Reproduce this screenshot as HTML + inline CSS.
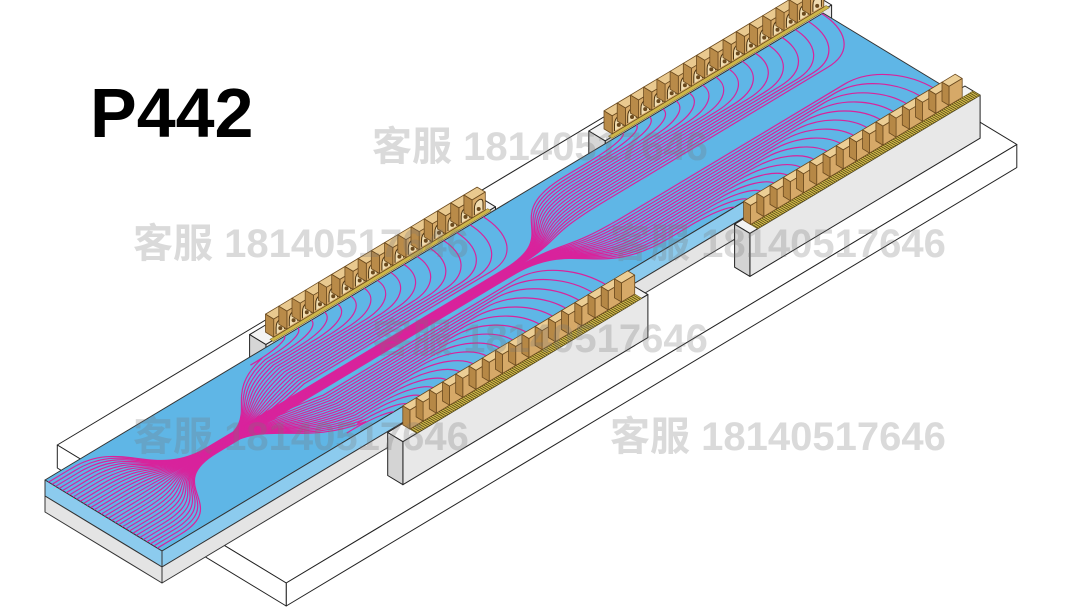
<!DOCTYPE html>
<html><head><meta charset="utf-8"><style>
html,body{margin:0;padding:0;background:#fff;}
#wrap{position:relative;width:1080px;height:608px;overflow:hidden;background:#fff;}
svg{position:absolute;left:0;top:0;}
.wm{font-family:"Liberation Sans","Noto Sans CJK SC",sans-serif;font-weight:bold;font-size:40px;fill:rgba(120,120,120,0.27);}
</style></head><body>
<div id="wrap">
<svg id="scene" width="1080" height="608" viewBox="0 0 1080 608"></svg>
<svg width="1080" height="608" viewBox="0 0 1080 608">
<text x="90" y="137" style="font-family:'Liberation Sans',sans-serif;font-weight:bold;font-size:70px;fill:#000">P442</text>
<text class="wm" x="372" y="160">客服 18140517646</text>
<text class="wm" x="133" y="257">客服 18140517646</text>
<text class="wm" x="610" y="257">客服 18140517646</text>
<text class="wm" x="372" y="352">客服 18140517646</text>
<text class="wm" x="133" y="450">客服 18140517646</text>
<text class="wm" x="610" y="450">客服 18140517646</text>
</svg>
</div>
<script>
function P(u,v,h){h=h||0;return [45+.778*u+1.17*v, 480-.467*u+.71*v-h];}
function f(p){return p[0].toFixed(1)+','+p[1].toFixed(1);}
var out='';
function poly(pts,fill,stroke,sw){stroke=stroke||'#222';sw=sw||1;
 out+='<polygon points="'+pts.map(function(p){return f(P(p[0],p[1],p[2]));}).join(' ')+'" fill="'+fill+'" stroke="'+stroke+'" stroke-width="'+sw+'" stroke-linejoin="round"/>';}
function box(u0,u1,v0,v1,h0,h1,ct,cf,cl,st,sw){
 poly([[u0,v0,h1],[u1,v0,h1],[u1,v1,h1],[u0,v1,h1]],ct,st,sw);
 poly([[u0,v1,h1],[u1,v1,h1],[u1,v1,h0],[u0,v1,h0]],cf,st,sw);
 poly([[u0,v0,h1],[u0,v1,h1],[u0,v1,h0],[u0,v0,h0]],cl,st,sw);
}
box(91,1033,-50,30,-66,-43,'#fff','#fff','#fff');
box(92,1031,40,145,-66,-43,'#fff','#fff','#fff');
box(287,582,-16,-2,-43,0,'#f3f3f3','#e6e6e6','#d6d6d6');
box(723,1014,-16,-2,-43,0,'#f3f3f3','#e6e6e6','#d6d6d6');
function bpins(u0,u1){poly([[u0,-4,0],[u1,-4,0],[u1,-1,0],[u0,-1,0]],'#cdb64a','#6b5a18',0.5);}
bpins(295,575);bpins(730,1010);
function backConn(u){
 box(u,u+17,-11,-4,0,18,'#e9c98f','#d8ac6a','#b98b49','#6b4a1e',0.8);
 var a=P(u+3,-4,1.5),b=P(u+3,-4,8),c=P(u+8.5,-4,14),d=P(u+14,-4,8),e=P(u+14,-4,1.5);
 out+='<path d="M'+f(a)+' L'+f(b)+' Q'+f(P(u+3,-4,14))+' '+f(c)+' Q'+f(P(u+14,-4,14))+' '+f(d)+' L'+f(e)+'" fill="#f0dcb0" stroke="#4a3210" stroke-width="1"/>';
 var m=P(u+8.5,-4,5);out+='<circle cx="'+m[0].toFixed(1)+'" cy="'+m[1].toFixed(1)+'" r="2" fill="#6b4a1e"/>';
}
for(var k=0;k<16;k++)backConn(300+17*k);
for(var k=0;k<16;k++)backConn(735+17*k);
poly([[0,0,0],[1000,0,0],[1000,100,0],[0,100,0]],'#5fb6e6','#333',1);
poly([[0,100,0],[1000,100,0],[1000,100,-16],[0,100,-16]],'#8ccbee','#333',1);
poly([[0,100,-16],[1000,100,-16],[1000,100,-32],[0,100,-32]],'#e4e4e4','#333',1);
poly([[0,0,0],[0,100,0],[0,100,-16],[0,0,-16]],'#8ccbee','#333',1);
poly([[0,0,-16],[0,100,-16],[0,100,-32],[0,0,-32]],'#e4e4e4','#333',1);
var tr='';
function L(u,v){return ' L'+f(P(u,v));}
function C(a,b,c,d,e,g){return ' C'+f(P(a,b))+' '+f(P(c,d))+' '+f(P(e,g));}
function line(d){tr+='<path d="'+d+'" fill="none" stroke="#d8239c" stroke-width="1.2"/>';}
// left connector lines emerging from band
for(var k=0;k<16;k++){var uk=300+17*k,vm=6+2.4*k;
 line('M'+f(P(150,48))+C(210,48,200,vm+10,270,vm)+L(uk-45,vm)+C(uk-10,vm,uk+8.5,vm*0.5,uk+8.5,-1));}
for(var k=0;k<17;k++){var uk=290+17*k,vm=95-2.3*k;
 line('M'+f(P(150,52))+C(210,52,200,vm-10,270,vm)+L(uk-45,vm)+C(uk-10,vm,uk+8.5,101-(101-vm)*0.5,uk+8.5,101));}
// band lines from left edge
for(var i=0;i<32;i++){var vs=3+i*3,vb=46+i*0.25,d='M'+f(P(0,vs))+L(30,vs)+C(95,vs,70,vb,140,vb)+L(520,vb);
 if(i<16){var k=i,uk=735+17*k,vm=6+2.3*k;d+=C(600,vb,570,vm,660,vm)+L(uk-45,vm)+C(uk-10,vm,uk+8.5,vm*0.5,uk+8.5,-1);}
 else{var k=31-i,uk=728+17*k,vm=94-2.3*k;d+=C(600,vb,570,vm,660,vm)+L(uk-45,vm)+C(uk-10,vm,uk+8.5,101-(101-vm)*0.5,uk+8.5,101);}
 line(d);}
var cp=[[0,0],[1000,0],[1000,100],[0,100]].map(function(p){return f(P(p[0],p[1]));}).join(' ');
out+='<defs><clipPath id="pc"><polygon points="'+cp+'"/></clipPath></defs><g clip-path="url(#pc)">'+tr+'</g>';
box(272,587,112,125,-43,0,'#f3f3f3','#e8e8e8','#d4d4d4');
box(718,1014,112,125,-43,0,'#f3f3f3','#e8e8e8','#d4d4d4');
function pins(u0,u1){poly([[u0,119,0],[u1,119,0],[u1,125,0],[u0,125,0]],'#cdb64a','#6b5a18',0.6);
 for(var u=u0+1;u<u1;u+=2.6){out+='<line x1="'+P(u,119)[0].toFixed(1)+'" y1="'+P(u,119)[1].toFixed(1)+'" x2="'+P(u,125)[0].toFixed(1)+'" y2="'+P(u,125)[1].toFixed(1)+'" stroke="#4a3e10" stroke-width="0.7"/>';}}
pins(290,579);pins(728,1014);
for(var k=0;k<17;k++){var u=290+17*k;box(u,u+17,113,119,0,19,'#ecce95','#d6a968','#b68846','#6b4a1e',0.8);}
for(var k=0;k<17;k++){var u=728+17*k;if(u+17<=1014)box(u,u+17,113,119,0,19,'#ecce95','#d6a968','#b68846','#6b4a1e',0.8);}
document.getElementById('scene').innerHTML=out;
</script>
</body></html>
